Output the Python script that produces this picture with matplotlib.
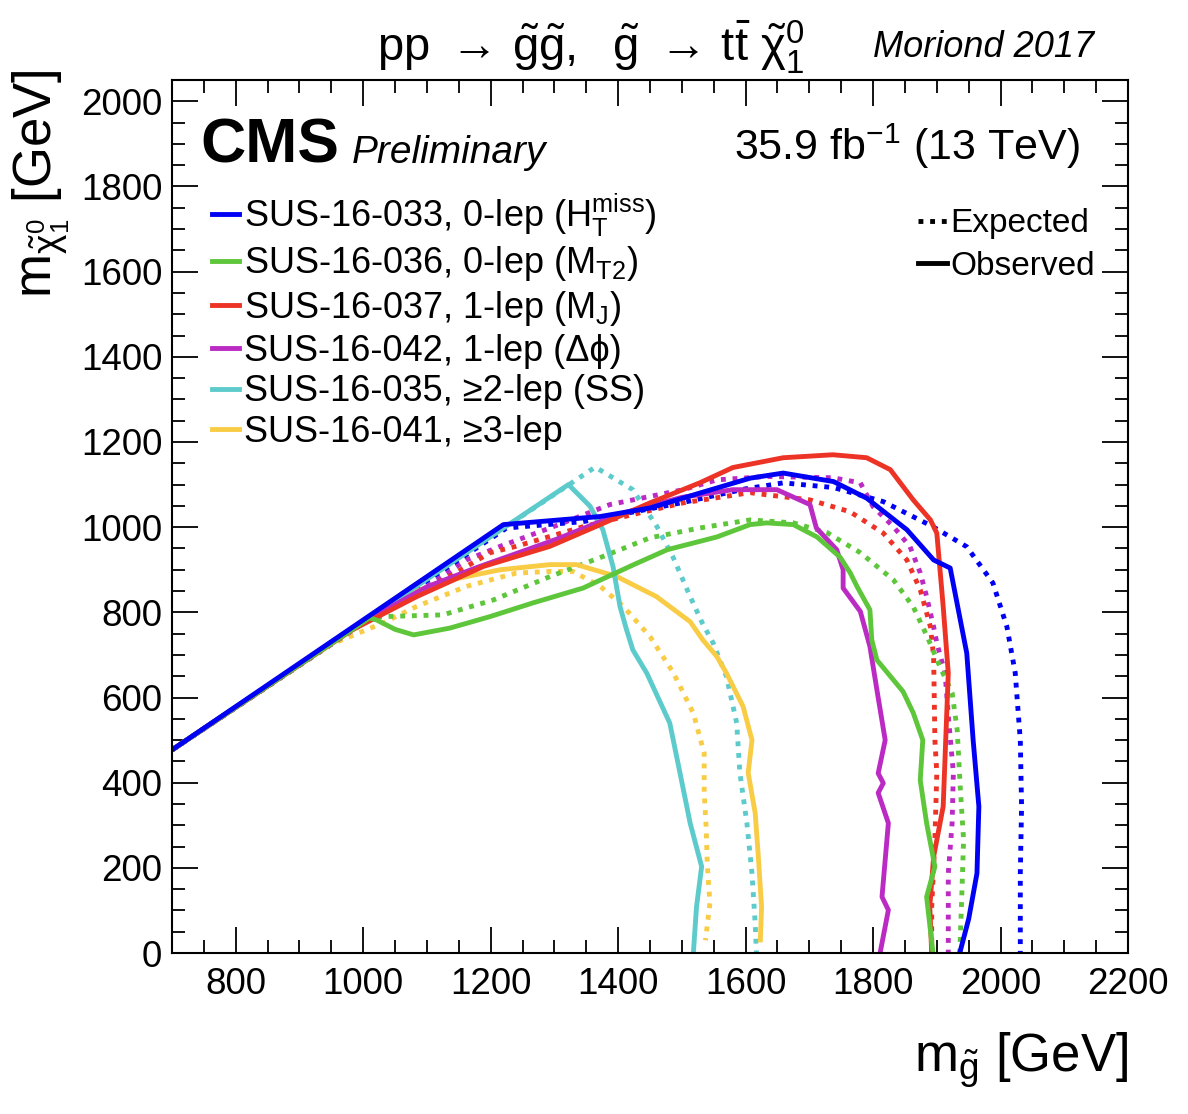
import matplotlib
matplotlib.use("Agg")
import matplotlib.pyplot as plt
from matplotlib.lines import Line2D
from matplotlib.ticker import MultipleLocator

plt.rcParams['font.family'] = ['Liberation Sans', 'DejaVu Sans']
plt.rcParams['mathtext.fontset'] = 'custom'
plt.rcParams['mathtext.rm'] = 'Liberation Sans'
plt.rcParams['mathtext.it'] = 'Liberation Sans:italic'
plt.rcParams['mathtext.bf'] = 'Liberation Sans:bold'

# ---- data (m_gluino, m_LSP) in GeV ----
# SUS-16-033, 0-lep (HT miss)
obs033_x = [700, 1220, 1372, 1450, 1528, 1607, 1659, 1738, 1790, 1853, 1895, 1921, 1947, 1957, 1966, 1963, 1950, 1936]
obs033_y = [477, 1006, 1025, 1045, 1080, 1115, 1127, 1107, 1068, 994, 923, 904, 704, 500, 344, 187, 80, 0]
exp033_x = [700, 1225, 1345, 1502, 1600, 1659, 1738, 1816, 1894, 1947, 1988, 2010, 2023, 2031, 2033, 2031, 2031]
exp033_y = [477, 998, 1013, 1058, 1090, 1104, 1093, 1060, 1001, 954, 869, 766, 658, 500, 344, 187, 0]
# SUS-16-036, 0-lep (MT2)
obs036_x = [700, 1010, 1021, 1050, 1079, 1136, 1199, 1266, 1345, 1423, 1477, 1555, 1607, 1633, 1675, 1712, 1748,
            1764, 1775, 1795, 1798, 1806, 1847, 1863, 1878, 1874, 1884, 1897, 1884, 1894]
obs036_y = [477, 787, 782, 760, 747, 763, 790, 822, 857, 911, 947, 977, 1006, 1010, 1006, 977, 930,
             893, 860, 806, 735, 688, 614, 564, 500, 406, 305, 203, 132, 0]
exp036_x = [700, 1010, 1031, 1125, 1204, 1293, 1376, 1450, 1528, 1607, 1675, 1728, 1780, 1832, 1863, 1885, 1905,
            1924, 1932, 1937, 1942, 1939, 1936]
exp036_y = [477, 787, 790, 794, 829, 884, 931, 975, 998, 1017, 1010, 987, 940, 876, 813, 743, 672,
            611, 524, 383, 266, 125, 0]
# SUS-16-037, 1-lep (MJ)
obs037_x = [700, 979, 1084, 1189, 1293, 1372, 1450, 1528, 1580, 1659, 1737, 1790, 1827, 1863, 1890, 1900, 1910,
            1918, 1916, 1910, 1895, 1889, 1892]
obs037_y = [477, 756, 837, 908, 955, 1006, 1057, 1104, 1140, 1163, 1170, 1163, 1135, 1064, 1017, 986, 814,
            657, 579, 344, 226, 109, 0]
exp037_x = [700, 1000, 1084, 1136, 1199, 1240, 1345, 1424, 1502, 1607, 1633, 1701, 1764, 1816, 1853, 1874, 1890,
            1895, 1897, 1900, 1897, 1892, 1892]
exp037_y = [477, 775, 845, 885, 940, 955, 1001, 1030, 1057, 1081, 1076, 1064, 1036, 986, 923, 853, 766,
            696, 500, 423, 266, 109, 0]
# SUS-16-042, 1-lep (dphi)
obs042_x = [700, 1000, 1100, 1178, 1304, 1400, 1500, 1580, 1649, 1701, 1711, 1743, 1753, 1753, 1780, 1795, 1806,
            1819, 1808, 1816, 1808, 1824, 1814, 1824, 1811]
obs042_y = [477, 777, 860, 905, 972, 1030, 1070, 1088, 1088, 1053, 998, 947, 900, 857, 802, 720, 618,
            500, 422, 399, 376, 305, 132, 101, 0]
exp042_x = [700, 1000, 1100, 1162, 1215, 1293, 1387, 1502, 1555, 1633, 1737, 1780, 1800, 1832, 1858, 1874, 1884,
            1895, 1900, 1913, 1919, 1926, 1924, 1918, 1918]
exp042_y = [477, 778, 860, 923, 955, 998, 1053, 1088, 1111, 1119, 1116, 1104, 1048, 1001, 954, 893, 837,
            766, 728, 657, 540, 423, 305, 187, 0]
# SUS-16-035, >=2-lep (SS)
obs035_x = [700, 1322, 1356, 1376, 1392, 1403, 1413, 1423, 1445, 1481, 1497, 1513, 1531, 1523, 1518]
obs035_y = [477, 1100, 1049, 994, 907, 813, 760, 712, 657, 540, 423, 305, 203, 109, 0]
exp035_x = [700, 1364, 1423, 1461, 1486, 1513, 1532, 1549, 1570, 1586, 1591, 1602, 1610, 1615, 1617]
exp035_y = [477, 1141, 1088, 1001, 930, 837, 775, 728, 649, 540, 423, 305, 187, 70, 0]
# SUS-16-041, >=3-lep
obs041_x = [700, 1050, 1084, 1136, 1215, 1293, 1335, 1398, 1460, 1513, 1533, 1555, 1570, 1596, 1610, 1604,
            1615, 1620, 1625, 1623]
obs041_y = [477, 825, 850, 876, 900, 912, 912, 884, 837, 778, 735, 696, 657, 579, 500, 423,
            329, 226, 109, 25]
exp041_x = [700, 950, 1031, 1084, 1162, 1240, 1293, 1329, 1372, 1408, 1450, 1487, 1518, 1535, 1535, 1538, 1540,
            1544, 1537]
exp041_y = [477, 725, 775, 814, 861, 892, 896, 896, 861, 814, 743, 657, 563, 469, 376, 297, 203,
            117, 30]

labels = [
    r'SUS-16-033, 0-lep ($\mathrm{H_{T}^{miss}}$)',
    r'SUS-16-036, 0-lep ($\mathrm{M_{T2}}$)',
    r'SUS-16-037, 1-lep ($\mathrm{M_{J}}$)',
    'SUS-16-042, 1-lep (\u0394\u03d5)',
    'SUS-16-035, \u22652-lep (SS)',
    'SUS-16-041, \u22653-lep',
]
colors = ['#0000f5', '#5ec63a', '#ec3325', '#bb2bc4', '#5dcbcb', '#f9cc46']

observed = [(obs033_x, obs033_y), (obs036_x, obs036_y), (obs037_x, obs037_y),
            (obs042_x, obs042_y), (obs035_x, obs035_y), (obs041_x, obs041_y)]
expected = [(exp033_x, exp033_y), (exp036_x, exp036_y), (exp037_x, exp037_y),
            (exp042_x, exp042_y), (exp035_x, exp035_y), (exp041_x, exp041_y)]

fig = plt.figure(figsize=(11.88, 11.14), dpi=100)
ax = fig.add_axes([0.1448, 0.1445, 0.8047, 0.7837])

lw = 3.5
dotted = (0, (1, 1.4))
# draw from last to first so blue ends up on top
for i in reversed(range(len(colors))):
    ex, ey = expected[i]
    ax.plot(ex, ey, color=colors[i], lw=lw, linestyle=dotted, dash_capstyle='butt', solid_joinstyle='round')
for i in reversed(range(len(colors))):
    ox, oy = observed[i]
    ax.plot(ox, oy, color=colors[i], lw=lw, solid_capstyle='butt', solid_joinstyle='round')

ax.set_xlim(700, 2200)
ax.set_ylim(0, 2050)
ax.xaxis.set_major_locator(MultipleLocator(200))
ax.xaxis.set_minor_locator(MultipleLocator(50))
ax.yaxis.set_major_locator(MultipleLocator(200))
ax.yaxis.set_minor_locator(MultipleLocator(50))
ax.tick_params(which='both', direction='in', top=True, right=True, width=1.3, labelsize=26.5)
ax.tick_params(which='major', length=19)
ax.tick_params(which='minor', length=9.5)
ax.tick_params(axis='x', pad=10)
ax.tick_params(axis='y', pad=7)
for sp in ax.spines.values():
    sp.set_linewidth(1.5)

ax.set_xlabel(r'$\mathrm{m}_{\tilde{\mathrm{g}}}$ [GeV]', fontsize=38, loc='right')
ax.xaxis.set_label_coords(1.0, -0.089)
ax.set_ylabel(r'$\mathrm{m}_{\tilde{\mathrm{\chi}}^{0}_{1}}$ [GeV]', fontsize=38, loc='top')
ax.yaxis.set_label_coords(-0.105, 1.012)

# analysis legend
handles = [Line2D([], [], color=c, lw=lw) for c in colors]
leg1 = ax.legend(handles, labels, loc='upper left', bbox_to_anchor=(0.042, 0.872), fontsize=26,
                 frameon=False, handlelength=0.75, handletextpad=0.12, labelspacing=0.155,
                 borderpad=0, borderaxespad=0)
ax.add_artist(leg1)

# expected / observed legend
h2 = [Line2D([], [], color='black', lw=lw, linestyle=dotted, dash_capstyle='butt'),
      Line2D([], [], color='black', lw=lw)]
ax.legend(h2, ['Expected', 'Observed'], loc='upper left', bbox_to_anchor=(0.78, 0.853), fontsize=24,
          frameon=False, handlelength=0.87, handletextpad=0.12, labelspacing=0.35,
          borderpad=0, borderaxespad=0)

# header texts
fig.text(0.497, 0.958, r'$\mathrm{pp}\ \rightarrow\,\tilde{\mathrm{g}}\tilde{\mathrm{g}},\ \ \tilde{\mathrm{g}}\ \rightarrow\,\mathrm{t}\bar{\mathrm{t}}\ \tilde{\mathrm{\chi}}^{0}_{1}$',
         ha='center', va='center', fontsize=34)
fig.text(0.735, 0.957, 'Moriond 2017', ha='left', va='center', fontsize=26, style='italic')
fig.text(0.1684, 0.8537, 'CMS', ha='left', va='baseline', fontsize=45, weight='bold')
fig.text(0.2963, 0.8537, 'Preliminary', ha='left', va='baseline', fontsize=28, style='italic')
fig.text(0.909, 0.8564, r'35.9 fb$^{\mathrm{-1}}$ (13 TeV)', ha='right', va='baseline', fontsize=31)

fig.savefig('out.png', dpi=100)
